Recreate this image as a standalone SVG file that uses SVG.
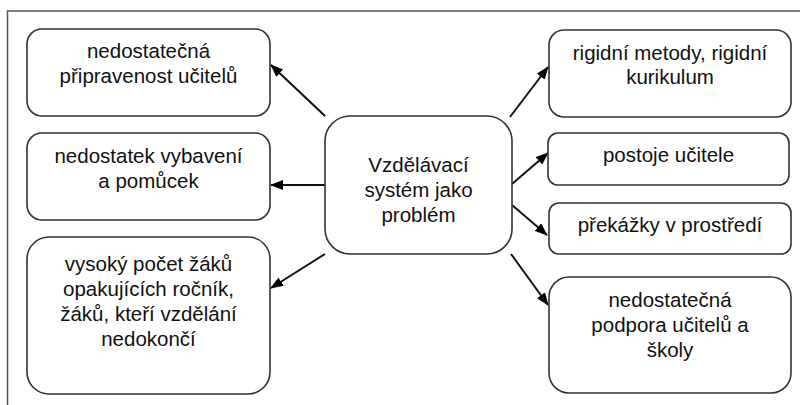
<svg xmlns="http://www.w3.org/2000/svg" width="800" height="405" viewBox="0 0 800 405">
<defs>
<marker id="ah" markerUnits="userSpaceOnUse" markerWidth="13" markerHeight="10" refX="12" refY="5" orient="auto">
<path d="M0,0 L13,5 L0,10 z" fill="#000"/>
</marker>
<style>
.box{fill:#fff;stroke:#333;stroke-width:1.6}
.t{font-family:"Liberation Sans",Arial,sans-serif;font-size:20.5px;fill:#111;text-anchor:middle}
.c{stroke:#111;stroke-width:2;fill:none;marker-end:url(#ah)}
.frame{stroke:#555;stroke-width:1.5;fill:none}
</style>
</defs>
<rect width="800" height="405" fill="#fff"/>
<path class="frame" d="M7.5,405 V11 H800"/>
<g id="connectors">
<line class="c" x1="325" y1="116" x2="271" y2="65"/>
<line class="c" x1="325" y1="185" x2="271" y2="185"/>
<line class="c" x1="325" y1="254" x2="271" y2="288"/>
<line class="c" x1="510" y1="117" x2="548" y2="67"/>
<line class="c" x1="512" y1="184" x2="548" y2="153"/>
<line class="c" x1="512" y1="205" x2="547" y2="235"/>
<line class="c" x1="511" y1="254" x2="548" y2="305"/>
</g>
<g id="center">
<rect class="box" x="325" y="116" width="187" height="138" rx="25"/>
<text class="t" x="418.5" y="172">Vzdělávací</text>
<text class="t" x="418.5" y="197">systém jako</text>
<text class="t" x="418.5" y="222">problém</text>
</g>
<g id="l1">
<rect class="box" x="27" y="29" width="243" height="87" rx="15"/>
<text class="t" x="148.5" y="58">nedostatečná</text>
<text class="t" x="148.5" y="83">připravenost učitelů</text>
</g>
<g id="l2">
<rect class="box" x="27" y="133" width="243" height="87" rx="15"/>
<text class="t" x="148.5" y="163">nedostatek vybavení</text>
<text class="t" x="148.5" y="188">a pomůcek</text>
</g>
<g id="l3">
<rect class="box" x="27" y="237" width="243" height="157" rx="22"/>
<text class="t" x="148.5" y="271">vysoký počet žáků</text>
<text class="t" x="148.5" y="296">opakujících ročník,</text>
<text class="t" x="148.5" y="321">žáků, kteří vzdělání</text>
<text class="t" x="148.5" y="346">nedokončí</text>
</g>
<g id="r1">
<rect class="box" x="549" y="30" width="242" height="87" rx="15"/>
<text class="t" x="670" y="60">rigidní metody, rigidní</text>
<text class="t" x="670" y="84">kurikulum</text>
</g>
<g id="r2">
<rect class="box" x="548" y="133" width="241" height="52" rx="10"/>
<text class="t" x="668.5" y="162">postoje učitele</text>
</g>
<g id="r3">
<rect class="box" x="549" y="203" width="242" height="51" rx="10"/>
<text class="t" x="670" y="232">překážky v prostředí</text>
</g>
<g id="r4">
<rect class="box" x="549" y="277" width="242" height="116" rx="20"/>
<text class="t" x="670" y="307">nedostatečná</text>
<text class="t" x="670" y="332">podpora učitelů a</text>
<text class="t" x="670" y="357">školy</text>
</g>
</svg>
